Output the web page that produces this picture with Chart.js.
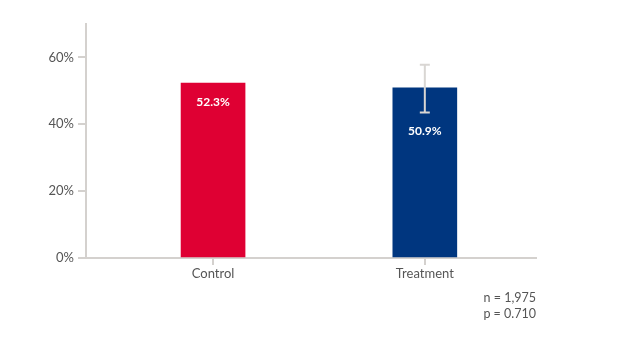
<!DOCTYPE html>
<html>
<head>
<meta charset="utf-8">
<script src="https://cdn.jsdelivr.net/npm/chart.js@4"></script>
<style>
  html, body { margin: 0; padding: 0; background: #fff; }
  #wrap { position: relative; width: 629px; height: 354px; }
  #note {
    position: absolute; right: 93px; top: 290px;
    font: 12.5px Lato, sans-serif; color: #555; text-align: right; line-height: 16px;
  }
</style>
</head>
<body>
<div id="wrap">
  <canvas id="chart" width="629" height="354"></canvas>
  <div id="note">n = 1,975<br>p = 0.710</div>
</div>
<script>
// data
const categories = ['Control', 'Treatment'];
const values = [52.3, 50.9];
const errLow = [null, 43.5];
const errHigh = [null, 57.8];
const barColors = ['#DF0033', '#00367F'];
const yTicks = [0, 20, 40, 60];

const axisGray = '#d4d1ce';
const textGray = '#555';

// error bars + value labels
const extras = {
  id: 'extras',
  afterDatasetsDraw(chart) {
    const ctx = chart.ctx;
    const x = chart.scales.x, y = chart.scales.y;
    ctx.save();
    values.forEach((v, i) => {
      const px = x.getPixelForValue(i);
      let labelTop = y.getPixelForValue(v);
      if (errLow[i] != null) {
        const top = y.getPixelForValue(errHigh[i]);
        const bot = y.getPixelForValue(errLow[i]);
        ctx.strokeStyle = '#d9d6d3';
        ctx.lineWidth = 2;
        ctx.beginPath();
        ctx.moveTo(px, top); ctx.lineTo(px, bot);
        ctx.moveTo(px - 5, top); ctx.lineTo(px + 5, top);
        ctx.moveTo(px - 5, bot); ctx.lineTo(px + 5, bot);
        ctx.stroke();
        labelTop = Math.max(labelTop, bot);
      }
      ctx.fillStyle = '#fff';
      ctx.font = 'bold 12px Lato, sans-serif';
      ctx.textAlign = 'center';
      ctx.textBaseline = 'middle';
      ctx.fillText(v.toFixed(1) + '%', px, labelTop + 18.5);
    });
    ctx.restore();
  }
};

new Chart(document.getElementById('chart'), {
  type: 'bar',
  data: {
    datasets: [{
      data: values.map((v, i) => ({ x: i, y: v })),
      backgroundColor: barColors,
      barThickness: 64
    }]
  },
  options: {
    responsive: false,
    animation: false,
    layout: { padding: { top: 24, right: 93, bottom: 0, left: 0 } },
    plugins: { legend: { display: false }, tooltip: { enabled: false } },
    scales: {
      x: {
        type: 'linear',
        offset: false,
        min: -0.6,
        max: 1.525,
        afterBuildTicks: s => { s.ticks = categories.map((c, i) => ({ value: i })); },
        afterFit: s => { s.height = 96; },
        ticks: {
          callback: v => categories[v],
          color: textGray,
          font: { family: 'Lato', size: 13 },
          padding: 1
        },
        grid: { offset: false, drawOnChartArea: false, tickLength: 7, color: axisGray, lineWidth: 2 },
        border: { color: axisGray, width: 2 }
      },
      y: {
        min: 0,
        max: 70,
        afterBuildTicks: s => { s.ticks = yTicks.map(v => ({ value: v })); },
        afterFit: s => { s.width = 86; },
        ticks: {
          callback: v => v + '%',
          color: textGray,
          font: { family: 'Lato', size: 13 },
          padding: 4
        },
        grid: { drawOnChartArea: false, tickLength: 8, color: axisGray, lineWidth: 2 },
        border: { color: axisGray, width: 2 }
      }
    }
  },
  plugins: [extras]
});
</script>
</body>
</html>
